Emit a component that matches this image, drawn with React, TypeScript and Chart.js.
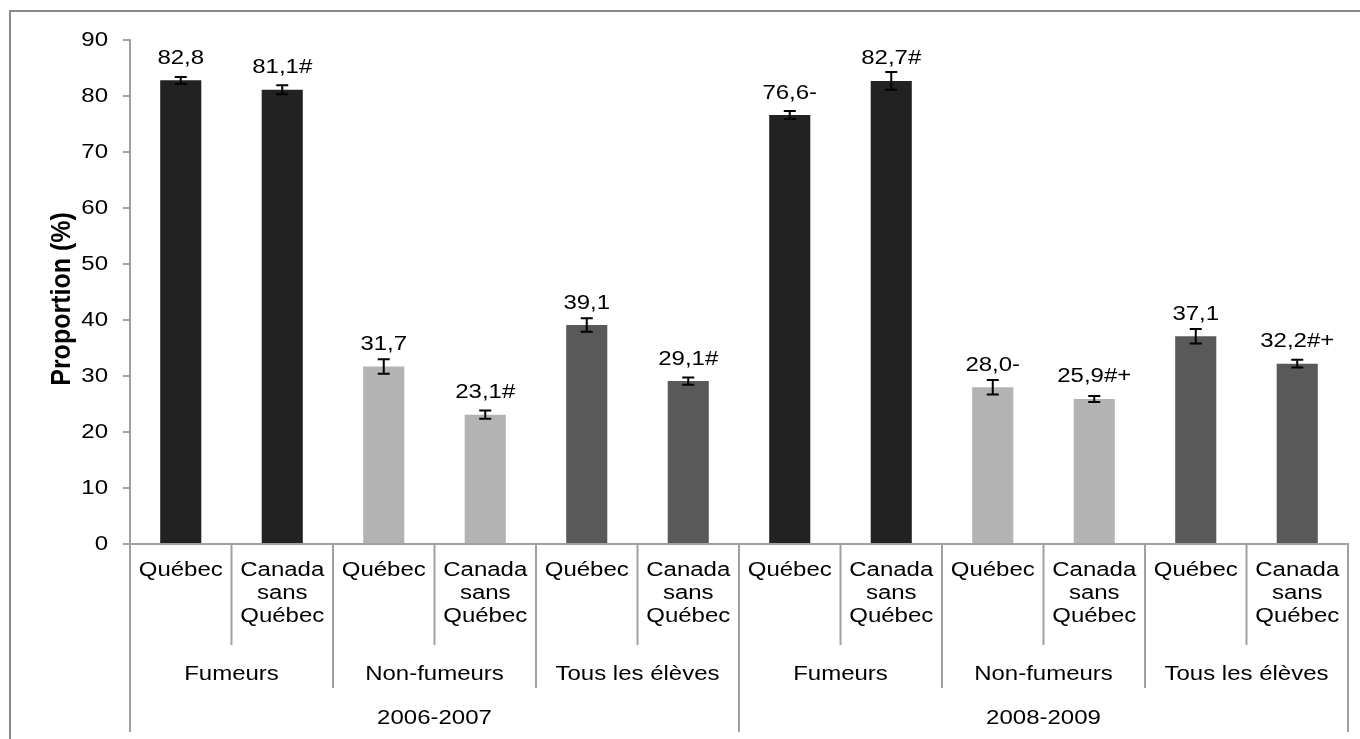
import React, { useEffect, useRef } from "react";
import { Chart, registerables } from "chart.js";
Chart.register(...registerables);

const regionLabels = [
  "Québec", "Canada sans Québec",
  "Québec", "Canada sans Québec",
  "Québec", "Canada sans Québec",
  "Québec", "Canada sans Québec",
  "Québec", "Canada sans Québec",
  "Québec", "Canada sans Québec",
];
const groupLabels = ["Fumeurs", "Non-fumeurs", "Tous les élèves", "Fumeurs", "Non-fumeurs", "Tous les élèves"];
const yearLabels = ["2006-2007", "2008-2009"];
const values = [82.8, 81.1, 31.7, 23.1, 39.1, 29.1, 76.6, 82.7, 28.0, 25.9, 37.1, 32.2];
const errors = [0.6, 0.8, 1.3, 0.75, 1.2, 0.65, 0.7, 1.6, 1.3, 0.55, 1.3, 0.7];
const flags = ["", "#", "", "#", "", "#", "-", "#", "-", "#+", "", "#+"];
const groupColors = ["#222222", "#b3b3b3", "#595959"];
const yTitle = "Proportion (%)";

const FONT = "'Liberation Sans', Arial, sans-serif";
const LINE = "#a0a0a0";
const SX = 1.2;

function stretchText(ctx: any, txt: string, x: number, y: number, align: string, base: string) {
  ctx.save();
  ctx.translate(x, y);
  ctx.scale(SX, 1);
  ctx.textAlign = align;
  ctx.textBaseline = base;
  ctx.fillText(txt, 0, 0);
  ctx.restore();
}

const annotate = {
  id: "annotate",
  afterDatasetsDraw(chart: any) {
    const ctx = chart.ctx;
    const ys = chart.scales.y;
    const meta = chart.getDatasetMeta(0);
    ctx.save();
    values.forEach((v, i) => {
      const bar = meta.data[i];
      const x = bar.x;
      const top = ys.getPixelForValue(v + errors[i]);
      const bot = ys.getPixelForValue(v - errors[i]);
      ctx.strokeStyle = "#000";
      ctx.lineWidth = 2;
      ctx.beginPath();
      ctx.moveTo(x, top);
      ctx.lineTo(x, bot);
      ctx.moveTo(x - 6, top);
      ctx.lineTo(x + 6, top);
      ctx.moveTo(x - 6, bot);
      ctx.lineTo(x + 6, bot);
      ctx.stroke();
      ctx.fillStyle = "#000";
      ctx.font = `20px ${FONT}`;
      const txt = v.toFixed(1).replace(".", ",") + flags[i];
      stretchText(ctx, txt, x, ys.getPixelForValue(v) - 16.5, "center", "alphabetic");
    });
    ctx.restore();
  },
  afterDraw(chart: any) {
    const ctx = chart.ctx;
    const area = chart.chartArea;
    const ys = chart.scales.y;
    const n = regionLabels.length;
    const w = (area.right - area.left) / n;
    const b = area.bottom;
    ctx.save();
    ctx.strokeStyle = LINE;
    ctx.lineWidth = 2;
    for (let i = 1; i <= n; i++) {
      const x = area.left + i * w;
      let len = 101;
      if (i % 2 === 0) len = 144;
      if (i % 6 === 0) len = 188;
      ctx.beginPath();
      ctx.moveTo(x, b);
      ctx.lineTo(x, b + len);
      ctx.stroke();
    }
    ctx.beginPath();
    ctx.moveTo(area.left, b);
    ctx.lineTo(area.left, b + 188);
    ctx.stroke();

    ctx.fillStyle = "#000";
    ctx.font = `20px ${FONT}`;
    ys.ticks.forEach((t: any) => {
      stretchText(ctx, String(t.value), area.left - 22, ys.getPixelForValue(t.value), "right", "middle");
    });
    regionLabels.forEach((lab, i) => {
      const cx = area.left + (i + 0.5) * w;
      lab.split(" ").forEach((line, j) => {
        stretchText(ctx, line, cx, b + 26 + j * 23, "center", "middle");
      });
    });
    groupLabels.forEach((lab, g) => {
      const cx = area.left + (g * 2 + 1) * w;
      stretchText(ctx, lab, cx, b + 130, "center", "middle");
    });
    yearLabels.forEach((lab, k) => {
      const cx = area.left + (k * 6 + 3) * w;
      stretchText(ctx, lab, cx, b + 174, "center", "middle");
    });

    ctx.font = `bold 25px ${FONT}`;
    ctx.textAlign = "center";
    ctx.textBaseline = "middle";
    ctx.translate(50, (area.top + area.bottom) / 2 + 7);
    ctx.rotate(-Math.PI / 2);
    ctx.scale(1, 1.1);
    ctx.fillText(yTitle, 0, 0);
    ctx.restore();
  },
};

export default function App() {
  const ref = useRef<HTMLCanvasElement>(null);
  useEffect(() => {
    if (!ref.current) return;
    const chart = new Chart(ref.current, {
      type: "bar",
      data: {
        labels: regionLabels,
        datasets: [
          {
            data: values,
            backgroundColor: values.map((_, i) => groupColors[Math.floor(i / 2) % 3]),
            categoryPercentage: 1,
            barPercentage: 0.405,
          },
        ],
      },
      options: {
        responsive: true,
        maintainAspectRatio: false,
        animation: false,
        layout: { padding: { top: 28, right: 12, left: 0, bottom: 0 } },
        plugins: { legend: { display: false }, tooltip: { enabled: false } },
        scales: {
          x: {
            grid: { display: false },
            ticks: { display: false },
            border: { color: LINE, width: 2 },
            afterFit: (s: any) => {
              s.height = 190;
            },
          },
          y: {
            min: 0,
            max: 90,
            ticks: { stepSize: 10, display: false },
            grid: { drawOnChartArea: false, drawTicks: true, tickLength: 7, color: LINE, lineWidth: 2 },
            border: { color: LINE, width: 2 },
            afterFit: (s: any) => {
              s.width = 118;
            },
          },
        },
      } as any,
      plugins: [annotate],
    });
    return () => chart.destroy();
  }, []);

  return (
    <div
      style={{
        position: "fixed",
        left: 9,
        top: 10,
        width: 1400,
        height: 800,
        borderTop: "2px solid #8a8a8a",
        borderLeft: "2px solid #8a8a8a",
        background: "#fff",
      }}
    >
      <div style={{ position: "absolute", left: 1, top: 0, width: 1348, height: 722 }}>
        <canvas ref={ref} />
      </div>
    </div>
  );
}
